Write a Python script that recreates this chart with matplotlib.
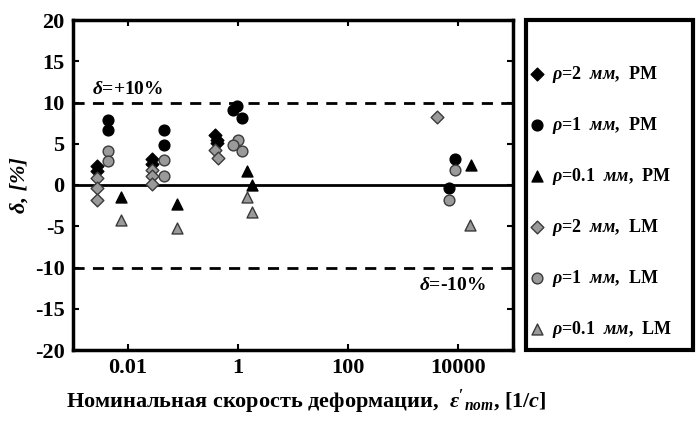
import matplotlib
matplotlib.use("Agg")
import matplotlib.pyplot as plt
from matplotlib.patches import Rectangle

plt.rcParams['font.family'] = ['Liberation Serif', 'DejaVu Serif']
plt.rcParams['font.weight'] = 'bold'
plt.rcParams['axes.unicode_minus'] = False
plt.rcParams['mathtext.fontset'] = 'custom'
plt.rcParams['mathtext.rm'] = 'Liberation Serif:bold'
plt.rcParams['mathtext.it'] = 'Liberation Serif:italic:bold'
plt.rcParams['mathtext.bf'] = 'Liberation Serif:bold'

# ---- data (strain rate [1/c], delta [%]) ----
pm2_x = [0.0027, 0.0027, 0.027, 0.027, 0.38, 0.41, 0.41]
pm2_y = [2.3, 1.7, 3.1, 2.5, 6.1, 5.5, 5.1]

pm1_x = [0.0044, 0.0044, 0.046, 0.046, 0.96, 0.81, 1.18, 8800, 6950]
pm1_y = [7.9, 6.7, 6.7, 4.8, 9.6, 9.1, 8.1, 3.2, -0.35]

pm01_x = [0.0076, 0.078, 1.44, 1.78, 17200]
pm01_y = [-1.45, -2.3, 1.7, 0.05, 2.45]

lm2_x = [0.0027, 0.0027, 0.0027, 0.027, 0.027, 0.027, 0.38, 0.44, 4100]
lm2_y = [0.85, -0.35, -1.8, 1.8, 1.1, 0.1, 4.3, 3.3, 8.25]

lm1_x = [0.0044, 0.0044, 0.046, 0.046, 1.0, 0.81, 1.18, 8800, 6950]
lm1_y = [4.1, 2.9, 3.0, 1.1, 5.45, 4.85, 4.1, 1.8, -1.8]

lm01_x = [0.0076, 0.078, 1.44, 1.78, 16500]
lm01_y = [-4.2, -5.2, -1.5, -3.3, -4.8]

labels = [r"$\rho$=2  $\mathit{мм}$,  PM", r"$\rho$=1  $\mathit{мм}$,  PM",
          r"$\rho$=0.1  $\mathit{мм}$,  PM", r"$\rho$=2  $\mathit{мм}$,  LM",
          r"$\rho$=1  $\mathit{мм}$,  LM", r"$\rho$=0.1  $\mathit{мм}$,  LM"]

x_ticks = [1e-2, 1e0, 1e2, 1e4]
x_ticklabels = ["0.01", "1", "100", "10000"]
y_ticks = [-20, -15, -10, -5, 0, 5, 10, 15, 20]

fig = plt.figure(figsize=(6.96, 4.21), dpi=100)
ax = fig.add_axes([73/696, 1-350/421, (513-73)/696, 330/421])

grey = '#9a9a9a'
edge_g = '#3a3a3a'
series = [
    (pm2_x, pm2_y, 'D', 'black', 'black', 42),
    (pm1_x, pm1_y, 'o', 'black', 'black', 60),
    (pm01_x, pm01_y, '^', 'black', 'black', 62),
    (lm2_x, lm2_y, 'D', grey, edge_g, 42),
    (lm1_x, lm1_y, 'o', grey, edge_g, 60),
    (lm01_x, lm01_y, '^', grey, edge_g, 62),
]
handles = []
for (xs, ys, m, fc, ec, s), lab in zip(series, labels):
    h = ax.scatter(xs, ys, marker=m, s=s, facecolor=fc, edgecolor=ec,
                   linewidth=1.0, zorder=3, label=lab)
    handles.append(h)

ax.axhline(0, color='black', lw=2, zorder=2)
ax.axhline(10, color='black', lw=2, ls=(0, (4, 3)), zorder=2)
ax.axhline(-10, color='black', lw=2, ls=(0, (4, 3)), zorder=2)

ax.set_xscale('log')
ax.set_xlim(1e-3, 1e5)
ax.set_ylim(-20, 20)
ax.set_xticks(x_ticks)
ax.set_xticklabels(x_ticklabels)
ax.minorticks_off()
ax.set_yticks(y_ticks)
ax.tick_params(direction='in', length=4, width=1.5, labelsize=16,
               top=True, right=True, pad=6)
for lbl in ax.get_xticklabels() + ax.get_yticklabels():
    lbl.set_fontweight('bold')
for sp in ax.spines.values():
    sp.set_linewidth(2.5)

ax.text(0.0100, 11.6, r"$\delta$=+10%", fontsize=14, fontweight='bold',
        ha='center', va='center')
ax.text(7800, -12.2, r"$\delta$=-10%", fontsize=14, fontweight='bold',
        ha='center', va='center')

ax.set_ylabel("δ, [%]", fontsize=16, fontstyle='italic', fontweight='bold', labelpad=4)
ax.set_xlabel(r"Номинальная скорость деформации,  $\epsilon'_{nom}$, $\mathit{[1/c]}$",
              fontsize=16, fontweight='bold')
ax.xaxis.set_label_coords(0.53, -0.115)

# legend box
fig.patches.append(Rectangle((526/696, 1-350/421), (693-526)/696, 330/421,
                             transform=fig.transFigure, fill=False,
                             edgecolor='black', linewidth=3))
leg = fig.legend(handles=handles, loc='upper left',
                 bbox_to_anchor=(521/696, 1-57/421), frameon=False,
                 fontsize=13, labelspacing=1.66, handletextpad=0.3,
                 handlelength=1.0, borderaxespad=0)

fig.savefig("out.png", dpi=100)
